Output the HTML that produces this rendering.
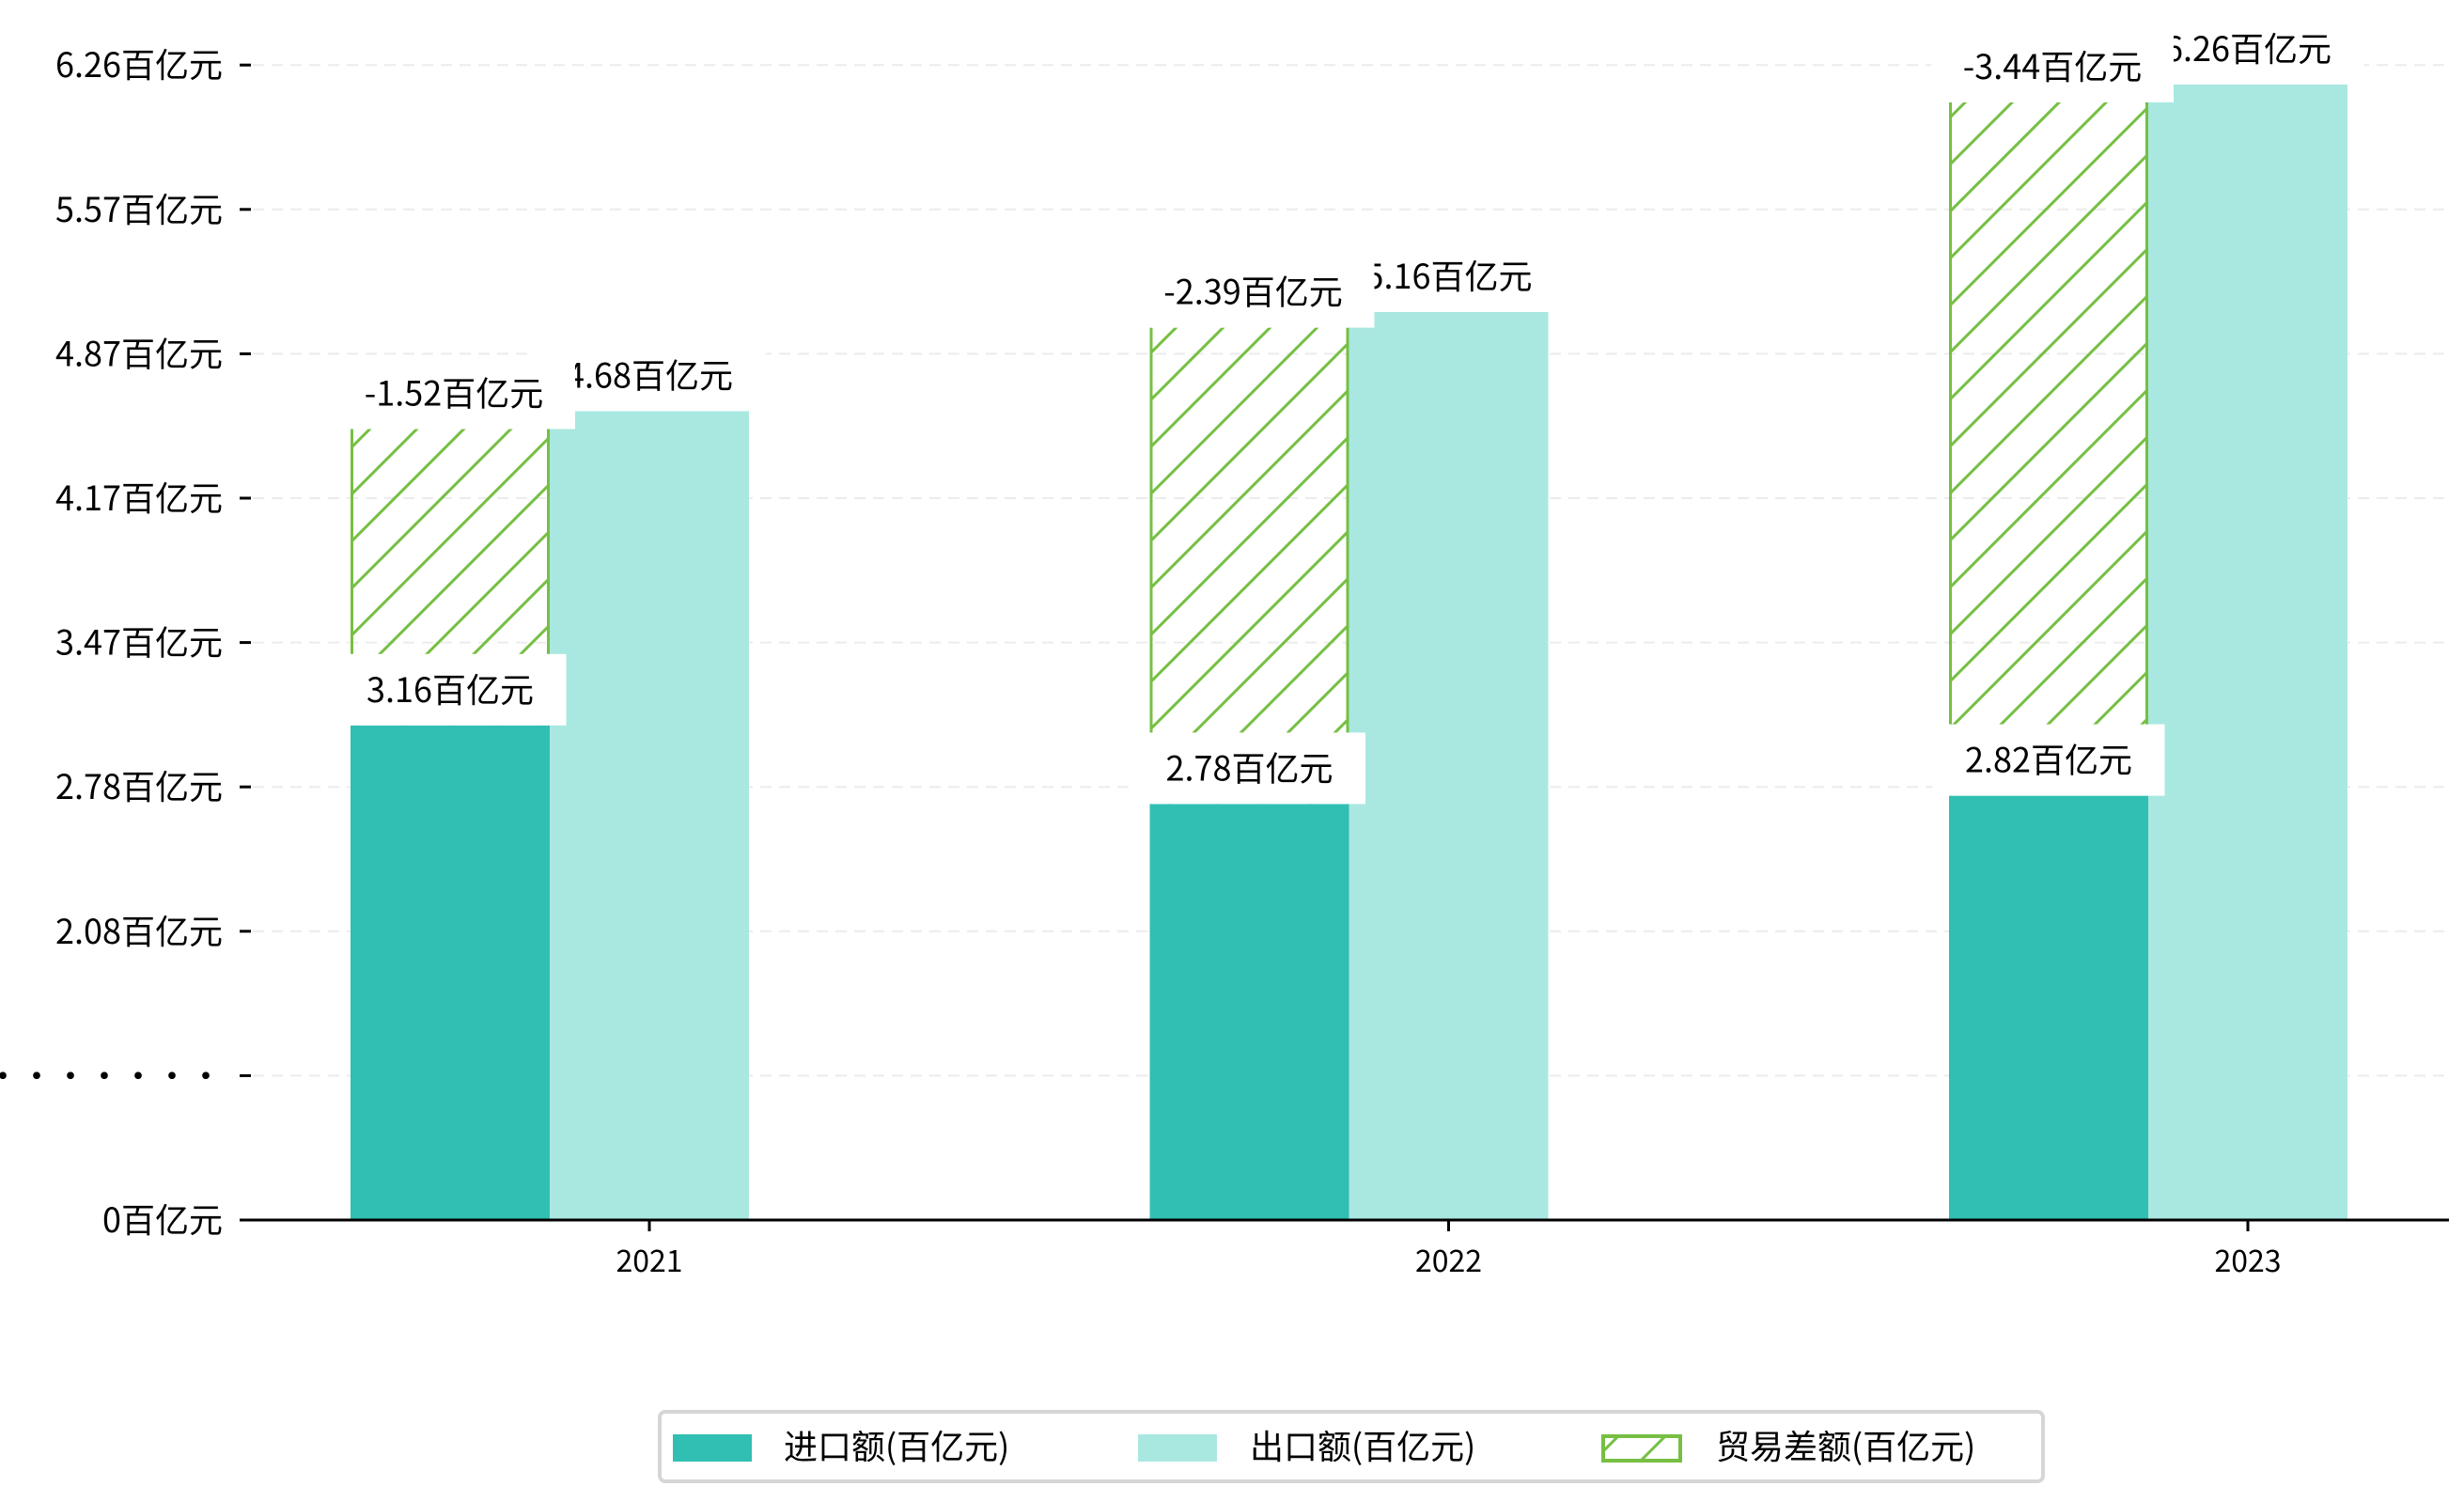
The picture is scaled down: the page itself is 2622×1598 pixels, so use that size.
<!DOCTYPE html>
<html><head><meta charset="utf-8">
<style>
html,body{margin:0;padding:0;background:#fff;}
svg{display:block;}
text{font-family:"WenQuanYi Zen Hei","Noto Sans CJK SC",sans-serif;fill:#000;}
</style></head>
<body>
<svg id="chart" width="2622" height="1598" viewBox="0 0 2622 1598" xmlns="http://www.w3.org/2000/svg">
<defs>
<pattern id="hatch" patternUnits="userSpaceOnUse" width="50" height="50">
<line x1="-5" y1="55" x2="55" y2="-5" stroke="#76bf43" stroke-width="3"/>
<line x1="-30" y1="30" x2="30" y2="-30" stroke="#76bf43" stroke-width="3"/>
<line x1="20" y1="80" x2="80" y2="20" stroke="#76bf43" stroke-width="3"/>
</pattern>
</defs>
<g id="grid"></g>
<g id="yaxis"></g>
<g id="bars"></g>
<g id="labels"></g>
<g id="xaxis"></g>
<g id="legend">
<rect x="702" y="1502" width="1472" height="74" rx="6" fill="#fff" stroke="#d6d6d6" stroke-width="4"/>
<g>
<rect x="716" y="1526" width="84" height="29" fill="#31bfb3"/>
<text x="834" y="1552" font-size="36">进口额(百亿元)</text></g>
<g>
<rect x="1211" y="1526" width="84" height="29" fill="#a9e8e1"/>
<text x="1330" y="1552" font-size="36">出口额(百亿元)</text></g>
<g>
<rect x="1706" y="1528" width="82" height="26" fill="url(#hatch)" stroke="#76bf43" stroke-width="4"/>
<text x="1826" y="1552" font-size="36">贸易差额(百亿元)</text></g>
</g>
</svg>
<script>
const categories = ["2021", "2022", "2023"];
const importValues = [3.16, 2.78, 2.82];
const exportValues = [4.68, 5.16, 6.26];
const balanceValues = [-1.52, -2.39, -3.44];
const importLabels = ["3.16百亿元", "2.78百亿元", "2.82百亿元"];
const exportLabels = ["4.68百亿元", "5.16百亿元", "6.26百亿元"];
const balanceLabels = ["-1.52百亿元", "-2.39百亿元", "-3.44百亿元"];
const yTickLabels = ["0百亿元", "·········", "2.08百亿元", "2.78百亿元", "3.47百亿元", "4.17百亿元", "4.87百亿元", "5.57百亿元", "6.26百亿元"];

const NS = "http://www.w3.org/2000/svg";
const baseY = 1298, slope = 220, offset = 169;
const tickStep = 153.6;
const x0 = 691, xStep = 850.5, barW = 212;
function yScale(v){ return baseY - (slope * v - offset); }
function xCenter(i){ return x0 + i * xStep; }
function mk(tag, attrs, parent){
  const el = document.createElementNS(NS, tag);
  for (const k in attrs) el.setAttribute(k, attrs[k]);
  parent.appendChild(el); return el;
}
const grid = document.getElementById('grid');
const yaxis = document.getElementById('yaxis');
const bars = document.getElementById('bars');
const labels = document.getElementById('labels');
const xaxis = document.getElementById('xaxis');

yTickLabels.forEach((t, i) => {
  const y = baseY - i * tickStep;
  if (i > 0) {
    const g = mk('line', {x1: 269, x2: 2606, y1: y, y2: y, stroke: '#ececec', 'stroke-width': 2, 'stroke-dasharray': '12,8'}, grid);
    
    
  }
  const tk = mk('line', {x1: 255, x2: 267, y1: y, y2: y, stroke: '#000', 'stroke-width': 3}, yaxis);
  
  
  const tx = mk('text', {x: 237, y: y + 13, 'font-size': 36, 'text-anchor': 'end'}, yaxis);
  
  
  tx.textContent = t;
});

function labelBox(cx, bottom, text, name, w){
  const g = mk('g', {}, labels);
  
  
  mk('rect', {x: cx - w/2, y: bottom - 76, width: w, height: 76, fill: '#fff'}, g);
  const t = mk('text', {x: cx, y: bottom - 25, 'font-size': 36, 'text-anchor': 'middle'}, g);
  t.textContent = text;
}

categories.forEach((c, i) => {
  const cx = xCenter(i);
  const impX = cx - barW * 1.5, expX = cx - barW * 0.5;
  const yi = yScale(importValues[i]), ye = yScale(exportValues[i]);
  const b1 = mk('rect', {x: impX, y: yi, width: barW, height: baseY - yi, fill: '#31bfb3'}, bars);
  
  
  const b2 = mk('rect', {x: expX, y: ye, width: barW, height: baseY - ye, fill: '#a9e8e1'}, bars);
  
  
  const yh = yScale(importValues[i] - balanceValues[i]) + 19;
  const hb = mk('g', {}, bars);
  
  
  mk('rect', {x: impX, y: yh, width: barW, height: yi - yh, fill: 'url(#hatch)'}, hb);
  mk('line', {x1: impX + 1.5, x2: impX + 1.5, y1: yh, y2: yi, stroke: '#76bf43', 'stroke-width': 3}, hb);
  mk('line', {x1: impX + barW - 1.5, x2: impX + barW - 1.5, y1: yh, y2: yi, stroke: '#76bf43', 'stroke-width': 3}, hb);
  labelBox(expX + barW/2, ye, exportLabels[i], 'export-label-' + c, 247);
  labelBox(impX + barW/2 + 4, yh, balanceLabels[i], 'balance-label-' + c, 258);
  labelBox(impX + barW/2, yi, importLabels[i], 'import-label-' + c, 247);
  const tk = mk('line', {x1: cx, x2: cx, y1: baseY, y2: baseY + 12, stroke: '#000', 'stroke-width': 3}, xaxis);
  
  
  const tl = mk('text', {x: cx, y: baseY + 55, 'font-size': 32, 'text-anchor': 'middle'}, xaxis);
  
  
  tl.textContent = c;
});
const ax = mk('line', {x1: 255, x2: 2606, y1: baseY, y2: baseY, stroke: '#000', 'stroke-width': 3}, xaxis);


</script>
</body></html>
